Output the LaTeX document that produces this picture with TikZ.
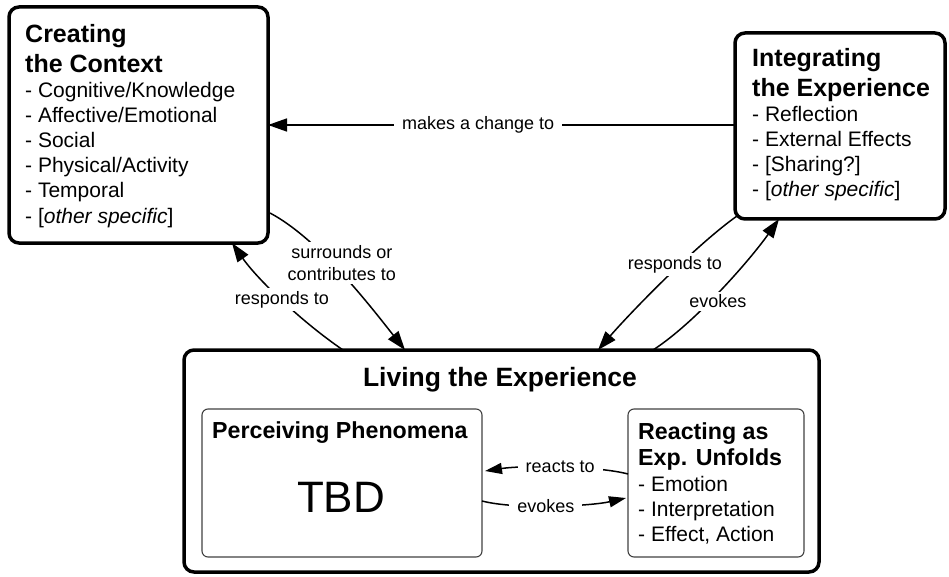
\documentclass[tikz,border=0pt]{standalone}
\usepackage{fontspec}
\setmainfont{Liberation Sans}
\usetikzlibrary{arrows.meta,calc}
\begin{document}
\begin{tikzpicture}[x=1pt,y=-1pt,
  bigbox/.style={draw, line width=3.5pt, rounded corners=10pt, inner sep=0pt, outer sep=0pt},
  smallbox/.style={draw=black!75, line width=1.1pt, rounded corners=6pt, inner sep=0pt, outer sep=0pt},
  ttl/.style={font=\fontsize{25}{30}\selectfont\bfseries, anchor=base west, inner sep=0pt},
  subttl/.style={font=\fontsize{23.2}{28}\selectfont\bfseries, anchor=base west, inner sep=0pt},
  itm/.style={font=\fontsize{21}{25}\selectfont, anchor=base west, inner sep=0pt},
  lbl/.style={font=\fontsize{18}{22}\selectfont, fill=white, inner xsep=8pt, inner ysep=3pt, align=center},
  conn/.style={line width=1.5pt, -{Triangle[length=19pt,width=13pt]}},
  iconn/.style={line width=1.5pt, -{Triangle[length=17pt,width=11pt]}}]
\useasboundingbox (0,0) rectangle (949,577);

% boxes
\node[bigbox, minimum width=259pt, minimum height=236pt] (ctx) at (138.5,125) {};
\node[bigbox, minimum width=210pt, minimum height=186pt] (integ) at (840,126) {};
\node[bigbox, minimum width=635pt, minimum height=222pt] (liv) at (501.5,461) {};
\node[smallbox, minimum width=280pt, minimum height=148pt] (perc) at (342,483) {};
\node[smallbox, minimum width=176pt, minimum height=148pt] (react) at (716,483) {};

% Creating the Context
\node[ttl] (ctxa) at (25,43) {Creating};
\node[ttl] (ctxb) at (25,73) {the Context};
\node[itm] (ctx1) at (25,98) {- Cognitive/Knowledge};
\node[itm] (ctx2) at (25,123) {- Affective/Emotional};
\node[itm] (ctx3) at (25,148) {- Social};
\node[itm] (ctx4) at (25,173) {- Physical/Activity};
\node[itm] (ctx5) at (25,198) {- Temporal};
\node[itm] (ctx6) at (25,223) {- [\textit{other specific}]};

% Integrating the Experience
\node[ttl] (inta) at (752,67) {Integrating};
\node[ttl] (intb) at (752,97) {the Experience};
\node[itm] (int1) at (752,122) {- Reflection};
\node[itm] (int2) at (752,147) {- External Effects};
\node[itm] (int3) at (752,172) {- [Sharing?]};
\node[itm] (int4) at (752,197) {- [\textit{other specific}]};

% Living the Experience
\node[font=\fontsize{26.5}{32}\selectfont\bfseries, anchor=base, inner sep=0pt] (livt) at (500,386) {Living the Experience};
\node[subttl] (perct) at (212,438) {Perceiving Phenomena};
\node[font=\fontsize{44}{50}\selectfont, anchor=base, inner sep=0pt] (tbd) at (341,512) {TBD};
\node[subttl] (reacta) at (638,439) {Reacting as};
\node[subttl] (reactb) at (638,465) {Exp. Unfolds};
\node[itm] (react1) at (638,491) {- Emotion};
\node[itm] (react2) at (638,516) {- Interpretation};
\node[itm] (react3) at (638,541) {- Effect, Action};

% connectors
\draw[conn] ($(integ.north west)+(0,92)$) -- node[lbl, pos=0.55] (lmake) {makes a change to} ($(ctx.north east)+(0,118)$);
\draw[conn] ($(ctx.north east)+(2,206)$) .. controls +(49,26) and +(-34,-43) .. ($(liv.north west)+(221,0)$)
  node[lbl, pos=0.42, xshift=10pt] (lsur) {surrounds or\\contributes to};
\draw[conn] ($(liv.north west)+(159,0)$) .. controls +(-41,-28) and +(26,37) .. ($(ctx.south west)+(223,0)$)
  node[lbl, pos=0.5] (lresl) {responds to};
\draw[conn] ($(integ.south west)+(2,-3)$) .. controls +(-41,29) and +(33,-38) .. ($(liv.north west)+(414,0)$)
  node[lbl, pos=0.4, xshift=-5pt] (lresr) {responds to};
\draw[conn] ($(liv.north west)+(469,0)$) .. controls +(42,-27) and +(-29,41) .. ($(integ.south west)+(44,0)$)
  node[lbl, pos=0.42, xshift=8pt] (levo) {evokes};
\draw[iconn] ($(react.north west)+(0,65)$) .. controls +(-30,-8) and +(40,-6) .. ($(perc.north east)+(3,62)$)
  node[lbl, pos=0.5] (lreact) {reacts to};
\draw[iconn] ($(perc.north east)+(0,92)$) .. controls +(35,9) and +(-35,8) .. ($(react.north west)+(-2,89)$)
  node[lbl, pos=0.45] (levi) {evokes};
\end{tikzpicture}
\end{document}
